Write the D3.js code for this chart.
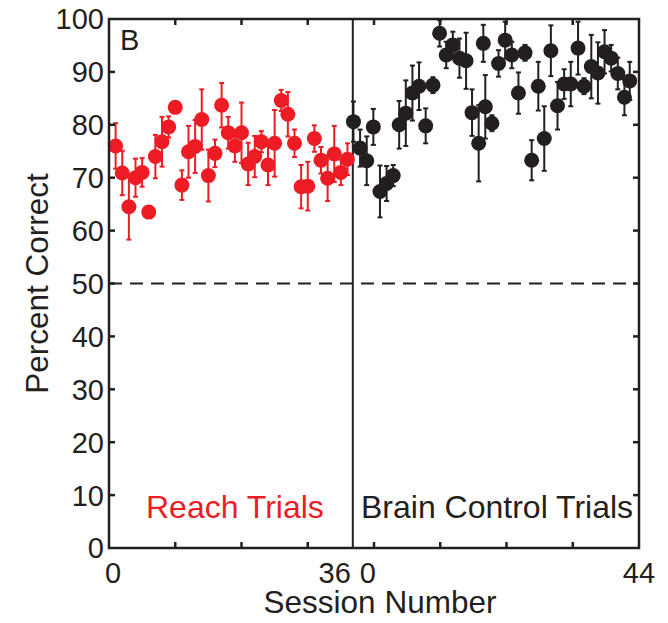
<!DOCTYPE html>
<html>
<head>
<meta charset="utf-8">
<script src="https://cdn.jsdelivr.net/npm/d3@7/dist/d3.min.js"></script>
<style>
  html, body { margin: 0; padding: 0; background: #fff; }
  svg { display: block; font-family: "Liberation Sans", Arial, sans-serif; }
</style>
</head>
<body>
<div id="chart"></div>
<script>
// reach trials: sessions 1..36
const reachPct = [76.0, 70.9, 64.5, 70.0, 71.0, 63.5, 74.0, 76.8, 79.6, 83.3, 68.6, 74.9,
  75.9, 81.0, 70.4, 74.6, 83.7, 78.5, 76.0, 78.5, 72.6, 74.0, 76.8, 72.4,
  76.5, 84.6, 82.0, 76.5, 68.3, 68.4, 77.4, 73.3, 69.9, 74.5, 71.0, 73.5];
const reachErr = [4.3, 4.2, 6.2, 3.6, 2.7, 0.8, 4.1, 4.7, 2.0, 1.0, 2.8, 4.9,
  5.0, 5.7, 4.9, 2.6, 4.2, 3.0, 3.0, 5.7, 4.0, 3.9, 2.0, 3.8,
  6.3, 2.0, 4.2, 2.6, 4.1, 4.6, 2.5, 2.5, 4.3, 5.3, 2.4, 3.0];

// brain control trials, session position after the divider
const brainSession = [0.1, 1.1, 2.1, 3.1, 4.1, 5.1, 6.1, 7, 8, 9, 10, 11, 12.1, 13.1, 14.1,
  15.1, 16.1, 17.1, 18, 19, 19.7, 20, 21, 22, 23, 24, 25, 26, 27, 28, 28.9,
  29.9, 30.9, 31.9, 32.9, 34, 34.9, 36, 37, 38, 39, 40, 41, 41.8];
const brainPct = [80.6, 75.6, 73.2, 79.6, 67.4, 68.9, 70.4, 80.0, 82.2, 86.0, 87.3, 79.8,
  87.5, 97.3, 93.2, 95.1, 92.6, 92.1, 82.3, 76.5, 95.4, 83.4, 80.3, 91.6,
  96.0, 93.2, 86.0, 93.6, 73.3, 87.3, 77.4, 94.0, 83.6, 87.7, 87.7, 94.5,
  87.3, 91.0, 89.8, 93.8, 92.6, 89.7, 85.2, 88.3];
const brainErr = [3.8, 3.5, 4.6, 3.4, 4.9, 3.3, 2.0, 4.5, 6.2, 5.2, 4.5, 3.3,
  1.5, 2.5, 2.5, 2.5, 3.7, 5.3, 4.4, 7.2, 3.5, 6.0, 1.5, 2.5,
  3.5, 2.5, 3.9, 1.5, 3.8, 4.6, 6.1, 4.8, 4.5, 2.8, 4.2, 5.0,
  1.5, 6.0, 5.8, 4.1, 2.5, 3.0, 3.4, 3.6];

const yTicks = [0, 10, 20, 30, 40, 50, 60, 70, 80, 90, 100];
const chanceLevel = 50;
const reachCount = 36;
const brainCount = 44;
const dividerAt = 36.8;   // combined axis position of the divider line
const axisMax = 80;
const innerTicks = [10, 20, 30, 40, 50, 60, 70];

const width = 668;
const height = 623;
const box = { left: 109, right: 639, top: 19, bottom: 548 };
const red = '#ed1c24';
const black = '#231f20';
const radius = 7.5;
const capHalf = 2.5;
const tickLen = 6;

const svg = d3.select('#chart')
  .append('svg')
  .attr('width', width)
  .attr('height', height);

const x = d3.scaleLinear()
  .domain([0, axisMax])
  .range([box.left, box.right]);
const y = d3.scaleLinear()
  .domain([0, 100])
  .range([box.bottom, box.top]);

const reach = reachPct.map((v, i) => ({ s: i + 1, v, e: reachErr[i] }));
const brain = brainPct.map((v, i) => ({ s: dividerAt + brainSession[i], v, e: brainErr[i] }));

// dashed chance line
svg.append('line')
  .attr('x1', x(0)).attr('x2', x(axisMax))
  .attr('y1', y(chanceLevel)).attr('y2', y(chanceLevel))
  .attr('stroke', black)
  .attr('stroke-width', 2)
  .attr('stroke-dasharray', '13,8');

// divider
svg.append('line')
  .attr('x1', x(dividerAt)).attr('x2', x(dividerAt))
  .attr('y1', y(0)).attr('y2', y(100))
  .attr('stroke', black)
  .attr('stroke-width', 2);

function drawSeries(data, color){
  const g = svg.append('g');
  const bars = g.selectAll('g.bar')
    .data(data)
    .enter()
    .append('g')
      .attr('class', 'bar')
      .attr('stroke', color)
      .attr('stroke-width', 2);
  bars.append('line')
    .attr('x1', d => x(d.s)).attr('x2', d => x(d.s))
    .attr('y1', d => y(d.v - d.e)).attr('y2', d => y(d.v + d.e));
  bars.append('line')
    .attr('x1', d => x(d.s) - capHalf).attr('x2', d => x(d.s) + capHalf)
    .attr('y1', d => y(d.v + d.e)).attr('y2', d => y(d.v + d.e));
  bars.append('line')
    .attr('x1', d => x(d.s) - capHalf).attr('x2', d => x(d.s) + capHalf)
    .attr('y1', d => y(d.v - d.e)).attr('y2', d => y(d.v - d.e));
  g.selectAll('circle')
    .data(data)
    .enter()
    .append('circle')
      .attr('cx', d => x(d.s))
      .attr('cy', d => y(d.v))
      .attr('r', radius)
      .attr('fill', color);
}
drawSeries(reach, red);
drawSeries(brain, black);

// frame and inward ticks
const frame = svg.append('g')
  .attr('stroke', black)
  .attr('stroke-width', 2.5)
  .attr('fill', 'none');
frame.append('rect')
  .attr('x', box.left).attr('y', box.top)
  .attr('width', box.right - box.left)
  .attr('height', box.bottom - box.top);
yTicks.slice(1, -1).forEach(t => {
  frame.append('line')
    .attr('x1', box.left).attr('x2', box.left + tickLen)
    .attr('y1', y(t)).attr('y2', y(t));
  frame.append('line')
    .attr('x1', box.right - tickLen).attr('x2', box.right)
    .attr('y1', y(t)).attr('y2', y(t));
});
innerTicks.forEach(t => {
  frame.append('line')
    .attr('x1', x(t)).attr('x2', x(t))
    .attr('y1', box.bottom).attr('y2', box.bottom - tickLen);
  frame.append('line')
    .attr('x1', x(t)).attr('x2', x(t))
    .attr('y1', box.top).attr('y2', box.top + tickLen);
});

// y tick labels
svg.append('g')
  .selectAll('text')
  .data(yTicks)
  .enter()
  .append('text')
    .attr('x', box.left - 5)
    .attr('y', d => y(d))
    .attr('dy', '0.36em')
    .attr('text-anchor', 'end')
    .attr('font-size', 29)
    .attr('fill', black)
    .text(d => d);

// x tick labels
const xLabels = [
  { at: 0, text: '0', anchor: 'middle', dx: 4 },
  { at: dividerAt, text: String(reachCount), anchor: 'end', dx: -2 },
  { at: dividerAt, text: '0', anchor: 'start', dx: 7 },
  { at: axisMax, text: String(brainCount), anchor: 'middle', dx: 0 },
];
svg.append('g')
  .selectAll('text')
  .data(xLabels)
  .enter()
  .append('text')
    .attr('x', d => x(d.at) + d.dx)
    .attr('y', 583)
    .attr('text-anchor', d => d.anchor)
    .attr('font-size', 29)
    .attr('fill', black)
    .text(d => d.text);

svg.append('text')
  .attr('x', (box.left + box.right) / 2 + 6)
  .attr('y', 613)
  .attr('text-anchor', 'middle')
  .attr('font-size', 31.5)
  .attr('fill', black)
  .text('Session Number');

svg.append('text')
  .attr('transform', `translate(48, ${y(50)}) rotate(-90)`)
  .attr('text-anchor', 'middle')
  .attr('font-size', 31.5)
  .attr('fill', black)
  .text('Percent Correct');

svg.append('text')
  .attr('x', 120)
  .attr('y', 50)
  .attr('font-size', 29)
  .attr('fill', black)
  .text('B');

svg.append('text')
  .attr('x', 146)
  .attr('y', 518)
  .attr('font-size', 32)
  .attr('fill', red)
  .text('Reach Trials');

svg.append('text')
  .attr('x', 361)
  .attr('y', 518)
  .attr('font-size', 32)
  .attr('fill', black)
  .text('Brain Control Trials');
</script>
</body>
</html>
